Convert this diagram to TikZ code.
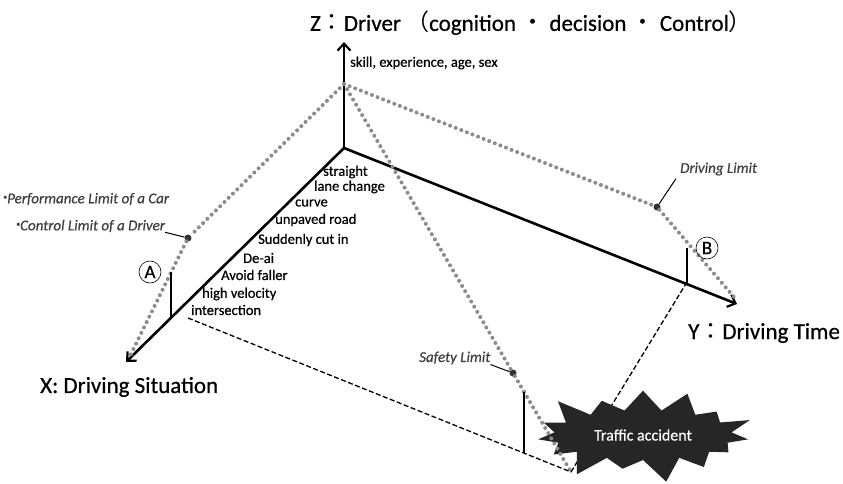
\documentclass[tikz,border=0pt]{standalone}
\usepackage{fontspec}
\setmainfont{Carlito}[FakeBold=0.6]
\newfontfamily\cjk{Noto Sans CJK JP}
\usetikzlibrary{arrows.meta,shapes.symbols}

\begin{document}
\begin{tikzpicture}[x = 1pt, y = -1pt,
    axis/.style = {line width = 2.6pt, -{Straight Barb[length = 7pt, width = 13pt, line width = 2.2pt]}},
    limit/.style = {line width = 4pt, black!45, line cap = round, dash pattern = on 0pt off 6pt},
    guide/.style = {line width = 1.3pt, dash pattern = on 5pt off 2.5pt},
    bar/.style = {line width = 1.8pt},
    pin/.style = {circle, fill = black!80, inner sep = 0pt, minimum size = 7pt},
    tag/.style = {font = \fontsize{15}{17}\selectfont\itshape, text = black!75, inner sep = 0pt},
    item/.style = {font = \fontsize{14.5}{16}\selectfont, anchor = west, inner sep = 0pt},
    title/.style = {font = \fontsize{23}{27}\selectfont, inner sep = 0pt},
    letter/.style = {circle, draw, line width = 0.6pt, inner sep = 0pt, minimum size = 22pt,
                     font = \fontsize{19}{20}\selectfont}]
  \useasboundingbox (0,0) rectangle (843,483);
  % axes
  \coordinate (o) at (344,148);
  \coordinate (zt) at (344,42);
  \coordinate (xt) at (126,362);
  \coordinate (yt) at (737,304);
  \coordinate (p) at (344,84);
  \coordinate (c) at (571,472);
  \coordinate (d1) at (188,318);
  \coordinate (d2) at (687,282);
  \coordinate (l1) at (130,356);
  \coordinate (r1) at (734,297);
  \draw [guide] (c) -- (d2);
  \node [starburst, fill = black!85, text = white, starburst points = 15,
         starburst point height = 27pt, minimum width = 232pt, minimum height = 104pt,
         font = \fontsize{16}{18}\selectfont] (crash) at (643,435) {Traffic accident};
  \draw [axis] (o) -- (zt);
  \draw [axis] (o) -- (xt);
  \draw [axis] (o) -- (yt);
  % limits
  \node [pin] (pa) at (188,238){};
  \node [pin] (pd) at (657,207){};
  \node [pin] (ps) at (513,373){};
  \draw [limit] (p) -- (pa) -- (l1);
  \draw [limit] (p) -- (pd) -- (r1);
  \draw [limit] (p) -- (ps) -- (c);
  \draw [guide] (d1) -- (c);
  % bars
  \coordinate (a1) at (171,318);
  \coordinate (a2) at (171,272);
  \coordinate (b1) at (687,283);
  \coordinate (b2) at (687,248);
  \coordinate (s1) at (524,453);
  \coordinate (s2) at (524,392);
  \draw [bar] (a1) -- (a2);
  \draw [bar] (b1) -- (b2);
  \draw [bar] (s1) -- (s2);
  \node [letter] (ca) at (150,272){A};
  \node [letter] (cb) at (707,248){B};
  % labels
  \node [title] (zl) at (531,23){Z{\cjk ：}Driver\ {\cjk （}cognition {\cjk ・} decision {\cjk ・} Control{\cjk ）}};
  \node [title, anchor = west] (xl) at (40,387){X: Driving Situation};
  \node [title, anchor = west] (yl) at (688,333){Y{\cjk ：}Driving Time};
  \node [item] (sk) at (350,63){skill, experience, age, sex};
  \node [item] (x1) at (323,172){straight};
  \node [item] (x2) at (314,187){lane change};
  \node [item] (x3) at (295,203){curve};
  \node [item] (x4) at (275,220){unpaved road};
  \node [item] (x5) at (258,240){Suddenly cut in};
  \node [item] (x6) at (243,258){De-ai};
  \node [item] (x7) at (221,275){Avoid faller};
  \node [item] (x8) at (202,294){high velocity};
  \node [item] (x9) at (191,310){intersection};
  \node [tag, anchor = west] (t1) at (3,199){\raisebox{0.25em}{\fontsize{8}{8}\selectfont\textbullet}Performance Limit of a Car};
  \node [tag, anchor = west] (t2) at (16,226){\raisebox{0.25em}{\fontsize{8}{8}\selectfont\textbullet}Control Limit of a Driver};
  \node [tag, anchor = west] (t3) at (680,169){Driving Limit};
  \node [tag, anchor = west] (t4) at (419,358){Safety Limit};
  \draw [line width = 1pt] (t2.south east) -- (pa);
  \draw [line width = 1pt] (t3.south west) ++(-4,3) -- (pd);
  \draw [line width = 1pt] (t4.south east) -- (ps);
\end{tikzpicture}
\end{document}
